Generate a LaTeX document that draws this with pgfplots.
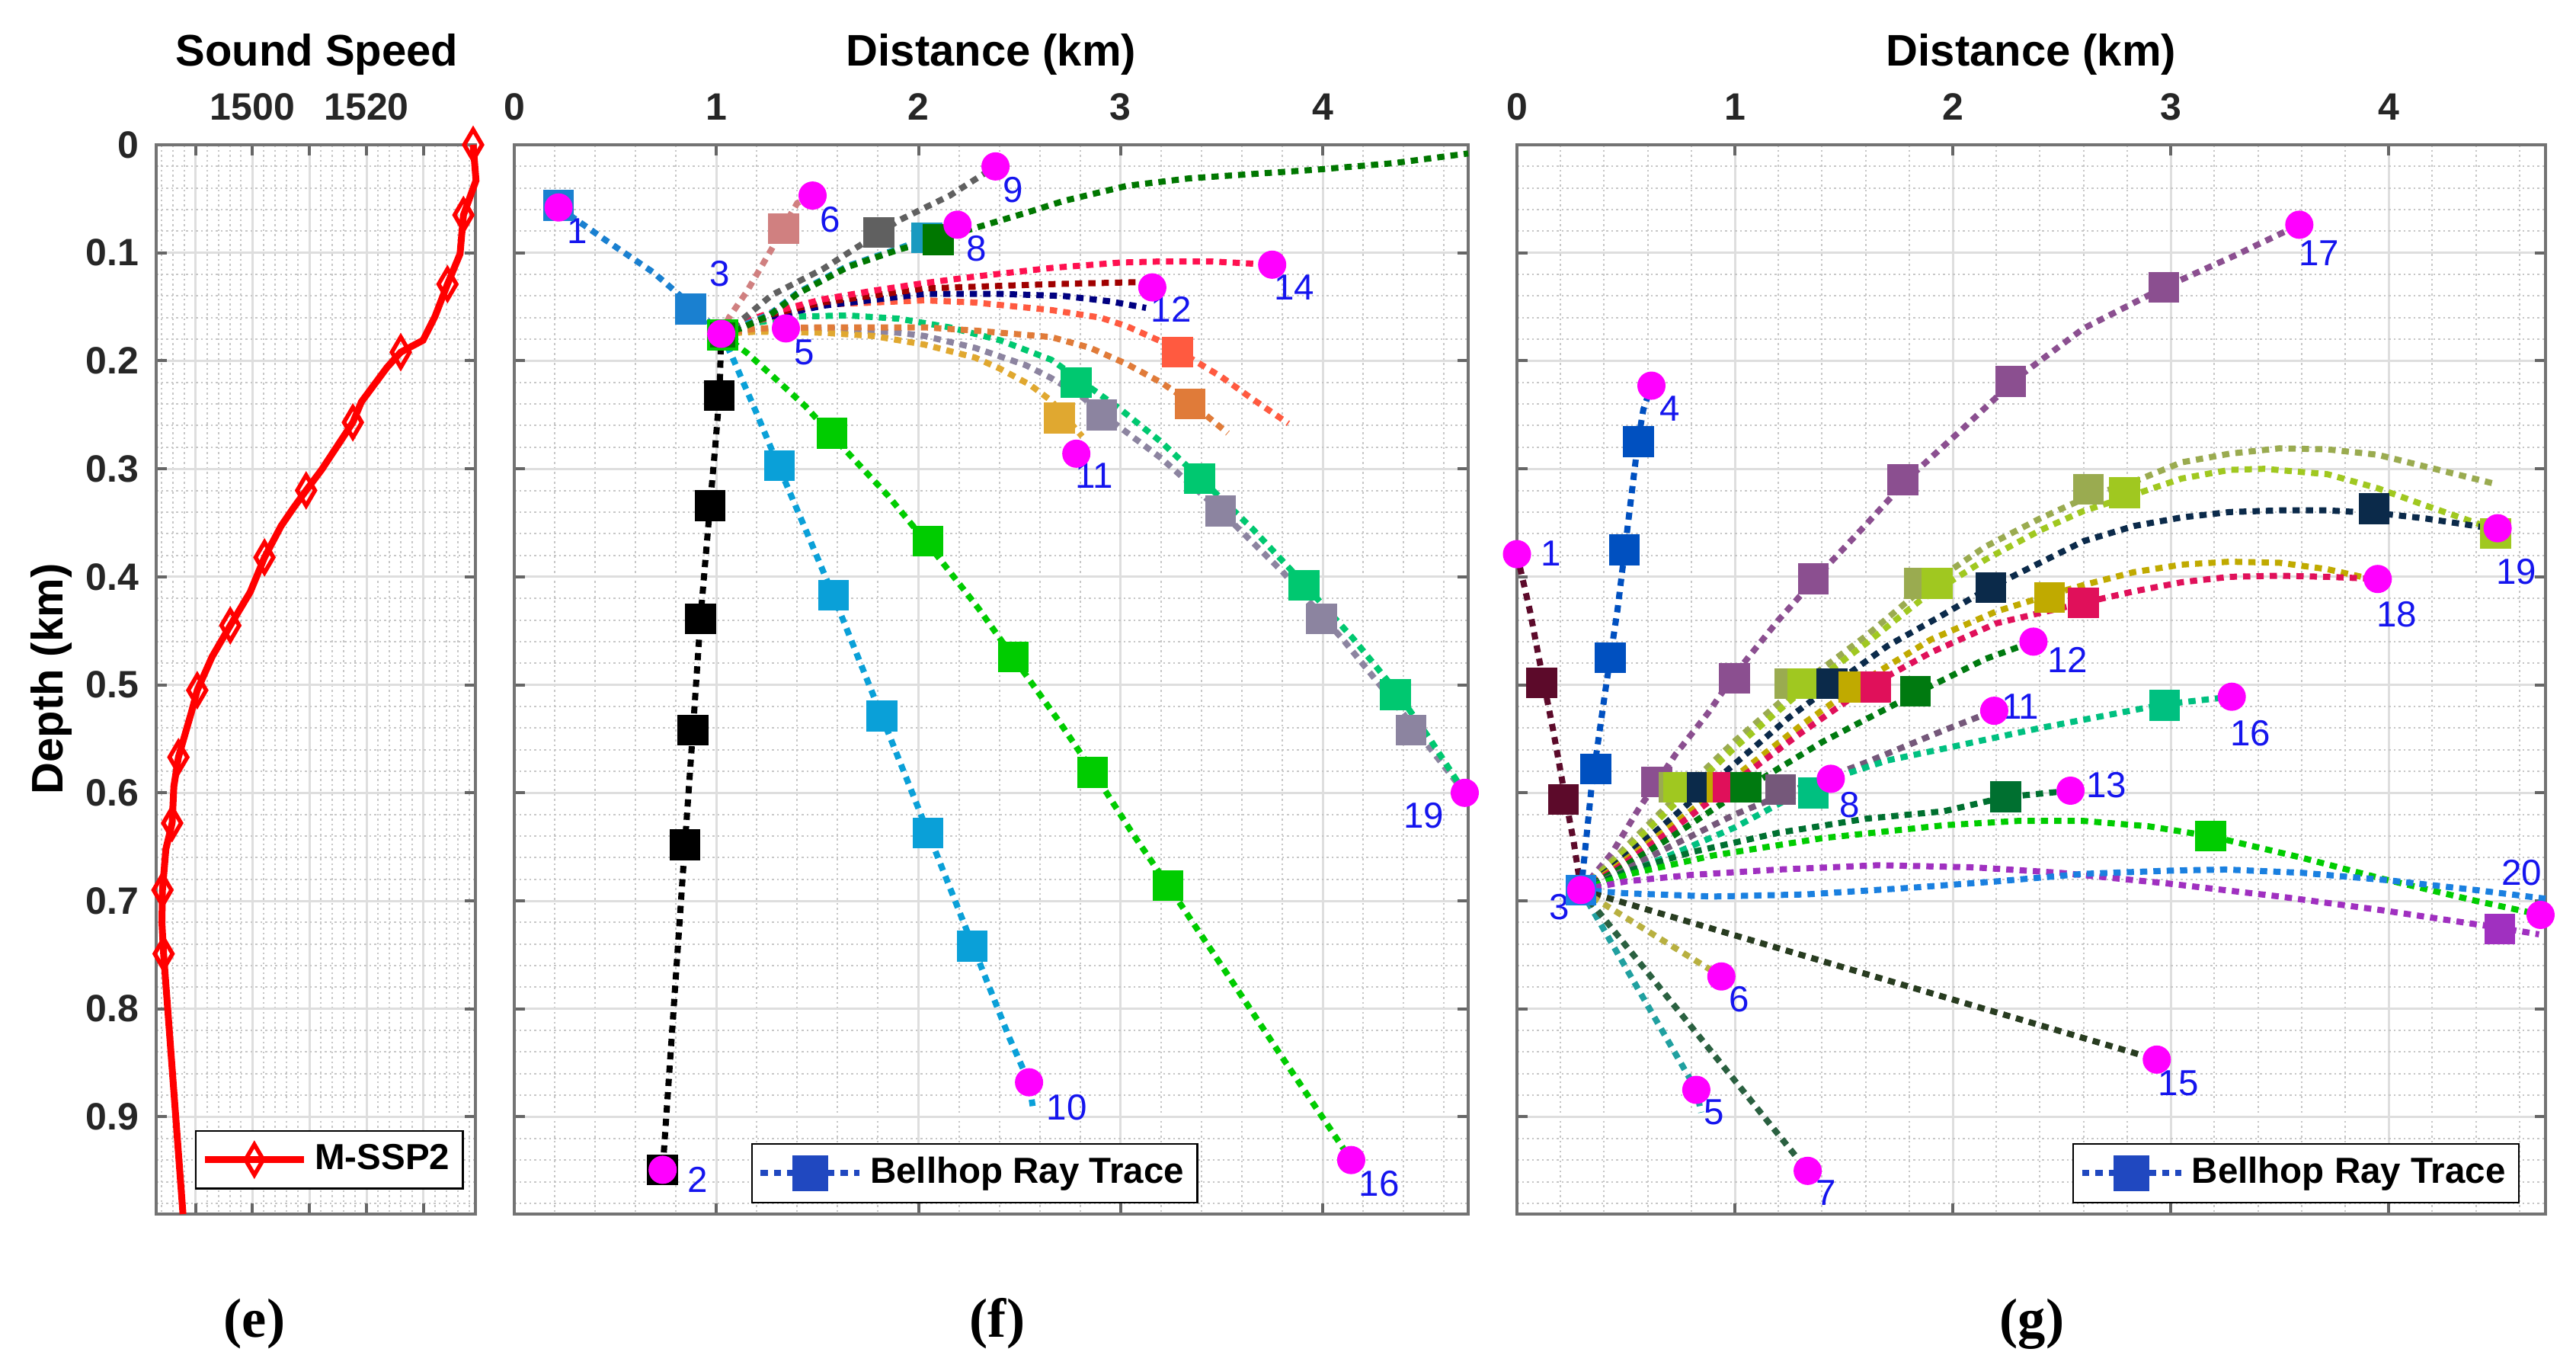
\documentclass[border=0pt]{standalone}
\usepackage{pgfplots}
\pgfplotsset{compat=1.18}
\usepackage{fontspec}
\setmainfont{Liberation Sans}
\newfontfamily\capfont{Liberation Serif}

\definecolor{mag}{RGB}{255,0,255}
\definecolor{labblue}{HTML}{1515EE}
\definecolor{legblue}{HTML}{2048C0}
% panel f colours
\definecolor{fA}{HTML}{1A80D0}
\definecolor{fTen}{HTML}{0AA0D8}
\definecolor{fSixteen}{HTML}{00CC00}
\definecolor{fTealG}{HTML}{00C870}
\definecolor{fGrayP}{HTML}{8C84A0}
\definecolor{fGold}{HTML}{E0A830}
\definecolor{fOrange}{HTML}{E07B39}
\definecolor{fTomato}{HTML}{FF5A40}
\definecolor{fCrimson}{HTML}{FF1050}
\definecolor{fDarkRed}{HTML}{A00000}
\definecolor{fNavy}{HTML}{000080}
\definecolor{fDkGreen}{HTML}{007700}
\definecolor{fTeal}{HTML}{1A9AC0}
\definecolor{fGray}{HTML}{606060}
\definecolor{fRosy}{HTML}{D08080}
% panel g colours
\definecolor{gMaroon}{HTML}{5C0A2A}
\definecolor{gBlueA}{HTML}{0050C0}
\definecolor{gPurpA}{HTML}{8B4F90}
\definecolor{gOlive}{HTML}{9AAB50}
\definecolor{gYG}{HTML}{A0C820}
\definecolor{gNavy}{HTML}{0B2A4A}
\definecolor{gGold}{HTML}{C0AA00}
\definecolor{gCrimson}{HTML}{E0105A}
\definecolor{gGreen}{HTML}{007A10}
\definecolor{gGP}{HTML}{75587A}
\definecolor{gTeal}{HTML}{00C080}
\definecolor{gDG}{HTML}{007030}
\definecolor{gBG}{HTML}{00CC00}
\definecolor{gPurpB}{HTML}{A030C0}
\definecolor{gBlueB}{HTML}{1A80E0}
\definecolor{gDOlive}{HTML}{283C20}
\definecolor{gKhaki}{HTML}{B8B040}
\definecolor{gTealB}{HTML}{20A0A0}
\definecolor{gDG7}{HTML}{2A6040}

\pgfplotsset{
  base/.style={
    scale only axis, height=280.6pt, anchor=south west,
    y dir=reverse, ymin=0, ymax=0.99,
    ytick={0,0.1,0.2,0.3,0.4,0.5,0.6,0.7,0.8,0.9},
    minor ytick={0.02,0.04,...,0.98},
    xticklabel pos=upper,
    xtick pos=both, ytick pos=both,
    tick align=inside,
    major tick length=2.8pt, minor tick length=0pt,
    grid=both,
    major grid style={draw=black!13, line width=0.6pt},
    minor grid style={draw=black!22, line width=0.4pt, dash pattern=on 0.5pt off 0.8pt},
    axis line style={draw=black!55, line width=0.8pt},
    tick style={draw=black!60, line width=0.8pt},
    /pgf/number format/assume math mode=true,
    ticklabel style={font=\bfseries\fontsize{10}{12}\selectfont, text=black!85},
    xticklabel style={anchor=base, inner sep=0pt, yshift=6.6pt},
    yticklabel style={anchor=east, inner sep=0pt, xshift=-4.4pt},
    clip=false,
    legend style={draw=black, line width=0.5pt, fill=white,
      font=\bfseries\fontsize{9.5}{11}\selectfont, inner sep=1.5pt, legend cell align=left},
    legend image code/.code={\draw[mark repeat=2,mark phase=2,##1] plot coordinates {(0pt,0pt) (13pt,0pt) (26pt,0pt)};},
  },
  ray/.style={draw=#1, line width=1.6pt, dash pattern=on 1.9pt off 1.6pt, line cap=butt, no markers, forget plot},
  sq/.style={only marks, mark=square*, mark size=3.9pt, color=#1, mark options={solid, line width=0.3pt}, forget plot},
  dot/.style={only marks, mark=*, mark size=3.5pt, color=mag, mark options={solid, draw=mag, fill=mag}, forget plot},
}
\tikzset{lbl/.style={text=labblue, font=\fontsize{9.5}{10}\selectfont, inner sep=0pt}}
\newcommand{\lb}[3]{\node[lbl] at (axis cs:#1,#2) {#3};}

\begin{document}
\begin{tikzpicture}
\path[use as bounding box] (0,0) rectangle (676.2pt,358.8pt);

% ================= (e) =================
\begin{axis}[base, at={(41pt,40.2pt)}, width=83.8pt,
  xmin=1483.1, xmax=1539.1,
  xtick={1490,1500,1510,1520,1530}, xticklabels={,1500,,1520,},
  minor xtick={1484,1486,...,1538},
  legend style={at={(0.964,0.023)}, anchor=south east}]
\addlegendimage{red, line width=1.8pt, mark=diamond, mark size=4pt, mark options={solid, line width=1.1pt, xscale=0.78}}
\addlegendentry{M-SSP2}
\addplot[red, line width=1.8pt, mark=diamond, mark size=4pt, mark options={solid, line width=1.1pt, xscale=0.78},
  mark indices={1,3,5,8,11,13,16,18,20,22,24,26,28}, forget plot] coordinates {
(1538.7,0) (1539.2,0.033) (1537.0,0.065) (1536.4,0.101) (1534.2,0.129) (1532.0,0.159)
(1529.9,0.181) (1526.0,0.192) (1523.6,0.206) (1519.1,0.238) (1517.6,0.257) (1512.1,0.301)
(1509.4,0.320) (1507.2,0.336) (1505.0,0.353) (1502.1,0.382) (1499.6,0.414) (1496.1,0.445)
(1492.9,0.474) (1490.3,0.505) (1489.3,0.525) (1487.0,0.567) (1486.2,0.594) (1485.9,0.628)
(1484.8,0.652) (1484.2,0.690) (1484.1,0.720) (1484.4,0.749) (1487.8,0.990)};
\end{axis}

% ================= (f) =================
\begin{axis}[base, at={(135pt,40.2pt)}, width=250.4pt,
  xmin=0, xmax=4.72, xtick={0,1,2,3,4},
  minor xtick={0.2,0.4,...,4.6}, yticklabels={},
  legend style={at={(0.248,0.01)}, anchor=south west}]
\addlegendimage{color=legblue, line width=1.6pt, dash pattern=on 1.9pt off 1.6pt, mark=square*, mark size=3.9pt, mark options={solid}}
\addlegendentry{Bellhop Ray Trace}
% rays
\addplot[ray=fA] coordinates {(0.219,0.058) (0.45,0.088) (0.687,0.118) (0.873,0.148) (1.024,0.175)};
\addplot[ray=black] coordinates {(1.024,0.175) (1.015,0.232) (0.994,0.28) (0.969,0.333) (0.921,0.439) (0.884,0.542) (0.844,0.648) (0.734,0.949)};
\addplot[ray=fTen] coordinates {(1.024,0.175) (1.08,0.197) (1.2,0.249) (1.3,0.294) (1.45,0.36) (1.58,0.418) (1.82,0.53) (2.05,0.638) (2.27,0.742) (2.45,0.827) (2.547,0.868) (2.565,0.89)};
\addplot[ray=fSixteen] coordinates {(1.024,0.175) (1.15,0.1925) (1.275,0.2136) (1.44,0.242) (1.6,0.275) (1.85,0.325) (2.07,0.375) (2.3,0.43) (2.49,0.48) (2.7,0.535) (2.88,0.585) (3.05,0.635) (3.25,0.69) (3.5,0.76) (3.8,0.845) (4.141,0.94)};
\addplot[ray=fGrayP] coordinates {(1.024,0.175) (1.2,0.171) (1.527,0.170) (1.903,0.174) (2.03,0.177) (2.28,0.188) (2.53,0.204) (2.657,0.216) (2.8,0.232) (2.95,0.255) (3.2,0.29) (3.5,0.34) (3.8,0.395) (4.1,0.458) (4.4,0.527) (4.703,0.600)};
\addplot[ray=fTealG] coordinates {(1.024,0.175) (1.15,0.166) (1.401,0.159) (1.652,0.158) (1.903,0.161) (2.154,0.169) (2.405,0.181) (2.657,0.199) (2.8,0.218) (3.0,0.245) (3.2,0.275) (3.39,0.308) (3.65,0.355) (3.9,0.405) (4.15,0.457) (4.36,0.505) (4.53,0.55) (4.703,0.600)};
\addplot[ray=fGold] coordinates {(1.024,0.175) (1.2,0.173) (1.527,0.174) (1.778,0.177) (2.03,0.185) (2.28,0.197) (2.40,0.207) (2.55,0.222) (2.657,0.237) (2.81,0.27)};
\addplot[ray=fOrange] coordinates {(1.024,0.175) (1.2,0.17) (1.527,0.169) (2.03,0.169) (2.28,0.172) (2.657,0.178) (2.85,0.188) (3.031,0.203) (3.2,0.22) (3.343,0.238) (3.53,0.267)};
\addplot[ray=fTomato] coordinates {(1.024,0.175) (1.2,0.163) (1.527,0.148) (2.03,0.144) (2.28,0.146) (2.657,0.153) (2.9,0.16) (3.031,0.168) (3.2,0.182) (3.35,0.198) (3.5,0.215) (3.65,0.235) (3.83,0.258)};
\addplot[ray=fNavy] coordinates {(1.024,0.175) (1.2,0.162) (1.527,0.149) (2.03,0.138) (2.4,0.138) (2.72,0.140) (2.95,0.145) (3.126,0.151)};
\addplot[ray=fDarkRed] coordinates {(1.024,0.175) (1.2,0.16) (1.527,0.146) (2.03,0.133) (2.657,0.129) (3.126,0.127)};
\addplot[ray=fCrimson] coordinates {(1.024,0.175) (1.15,0.163) (1.275,0.155) (1.527,0.143) (1.778,0.135) (2.03,0.128) (2.28,0.122) (2.657,0.114) (3.0,0.109) (3.2,0.108) (3.45,0.108) (3.75,0.111)};
\addplot[ray=fTeal] coordinates {(1.024,0.175) (1.12,0.168) (1.263,0.157) (1.401,0.137) (1.652,0.112) (1.903,0.096) (2.042,0.086)};
\addplot[ray=fDkGreen] coordinates {(1.024,0.175) (1.12,0.17) (1.263,0.158) (1.401,0.138) (1.652,0.113) (1.903,0.097) (2.098,0.087) (2.28,0.077) (2.532,0.063) (2.718,0.052) (3.031,0.038) (3.343,0.031) (3.97,0.023) (4.35,0.017) (4.72,0.008)};
\addplot[ray=fGray] coordinates {(1.024,0.175) (1.12,0.163) (1.275,0.139) (1.527,0.115) (1.703,0.094) (1.903,0.070) (2.155,0.047) (2.381,0.020)};
\addplot[ray=fRosy] coordinates {(1.024,0.175) (1.062,0.16) (1.15,0.136) (1.275,0.096) (1.35,0.07) (1.40,0.054) (1.476,0.047)};
% squares
\addplot[sq=fA] coordinates {(0.219,0.056) (0.873,0.152)};
\addplot[sq=black] coordinates {(1.015,0.232) (0.969,0.334) (0.921,0.439) (0.884,0.542) (0.844,0.648) (0.734,0.949)};
\addplot[sq=fTen] coordinates {(1.312,0.297) (1.579,0.417) (1.819,0.529) (2.047,0.637) (2.265,0.742)};
\addplot[sq=fSixteen] coordinates {(1.572,0.267) (2.047,0.367) (2.469,0.474) (2.861,0.581) (3.235,0.686)};
\addplot[sq=fTealG] coordinates {(2.781,0.22) (3.391,0.309) (3.907,0.408) (4.36,0.509)};
\addplot[sq=fGrayP] coordinates {(2.906,0.25) (3.494,0.339) (3.995,0.439) (4.437,0.542)};
\addplot[sq=fGold] coordinates {(2.697,0.253)};
\addplot[sq=fOrange] coordinates {(3.343,0.240)};
\addplot[sq=fTomato] coordinates {(3.281,0.192)};
\addplot[sq=fTeal] coordinates {(2.042,0.086)};
\addplot[sq=fDkGreen] coordinates {(2.098,0.088)};
\addplot[sq=fGray] coordinates {(1.803,0.081)};
\addplot[sq=fRosy] coordinates {(1.332,0.0775)};
\addplot[only marks, mark=square*, mark size=3.7pt, draw=fSixteen, fill=fDkGreen, mark options={solid, line width=0.8pt}, forget plot] coordinates {(1.03,0.176)};
% end points
\addplot[dot] coordinates {(0.219,0.058) (0.734,0.949) (1.024,0.175) (1.344,0.170) (1.476,0.047) (2.193,0.074) (2.381,0.020) (2.547,0.868) (2.781,0.286) (3.157,0.132) (3.75,0.111) (4.141,0.940) (4.703,0.600)};
% labels
\lb{0.312}{0.080}{1} \lb{1.015}{0.119}{3} \lb{1.562}{0.069}{6} \lb{2.469}{0.042}{9}
\lb{2.287}{0.096}{8} \lb{3.86}{0.132}{14} \lb{3.25}{0.152}{12} \lb{1.436}{0.192}{5}
\lb{2.87}{0.306}{11} \lb{4.50}{0.621}{19} \lb{2.734}{0.891}{10} \lb{4.28}{0.962}{16}
\lb{0.906}{0.958}{2}
\end{axis}

% ================= (g) =================
\begin{axis}[base, at={(398.2pt,40.2pt)}, width=270pt,
  xmin=0, xmax=4.72, xtick={0,1,2,3,4},
  minor xtick={0.2,0.4,...,4.6}, yticklabels={},
  legend style={at={(0.975,0.01)}, anchor=south east}]
\addlegendimage{color=legblue, line width=1.6pt, dash pattern=on 1.9pt off 1.6pt, mark=square*, mark size=3.9pt, mark options={solid}}
\addlegendentry{Bellhop Ray Trace}
% rays
\addplot[ray=gMaroon] coordinates {(0,0.379) (0.06,0.432) (0.112,0.487) (0.167,0.543) (0.214,0.596) (0.26,0.645) (0.294,0.69)};
\addplot[ray=gBlueA] coordinates {(0.294,0.69) (0.305,0.668) (0.341,0.597) (0.408,0.502) (0.461,0.431) (0.51,0.35) (0.555,0.275) (0.58,0.245) (0.617,0.223)};
\addplot[ray=gPurpA] coordinates {(0.294,0.69) (0.435,0.656) (0.555,0.616) (0.729,0.564) (0.877,0.526) (1.0,0.49) (1.2,0.44) (1.4,0.395) (1.6,0.352) (1.8,0.308) (2.05,0.262) (2.3,0.215) (2.6,0.17) (2.97,0.132) (3.3,0.102) (3.59,0.074)};
\addplot[ray=gOlive] coordinates {(0.294,0.69) (0.45,0.66) (0.7,0.61) (1.0,0.552) (1.3,0.5) (1.6,0.455) (1.85,0.413) (2.15,0.372) (2.4,0.346) (2.63,0.325) (2.83,0.312) (3.05,0.294) (3.27,0.286) (3.5,0.281) (3.72,0.282) (3.95,0.287) (4.17,0.298) (4.49,0.314)};
\addplot[ray=gYG] coordinates {(0.294,0.69) (0.45,0.663) (0.7,0.615) (1.0,0.558) (1.3,0.507) (1.6,0.462) (1.85,0.422) (2.15,0.384) (2.4,0.357) (2.6,0.339) (2.8,0.326) (3.05,0.309) (3.27,0.301) (3.43,0.300) (3.72,0.305) (3.95,0.318) (4.17,0.334) (4.4,0.350) (4.5,0.358)};
\addplot[ray=gNavy] coordinates {(0.294,0.69) (0.45,0.667) (0.7,0.625) (1.0,0.573) (1.25,0.53) (1.45,0.5) (1.7,0.464) (1.93,0.438) (2.17,0.41) (2.38,0.389) (2.6,0.367) (2.83,0.353) (3.05,0.345) (3.27,0.340) (3.5,0.3385) (3.72,0.3385) (3.95,0.341) (4.17,0.346) (4.5,0.356)};
\addplot[ray=gGold] coordinates {(0.294,0.69) (0.45,0.669) (0.7,0.632) (1.0,0.585) (1.3,0.538) (1.6,0.495) (1.9,0.458) (2.2,0.432) (2.44,0.417) (2.6,0.4076) (2.83,0.3957) (3.05,0.3887) (3.27,0.386) (3.5,0.387) (3.72,0.393) (3.92,0.402)};
\addplot[ray=gCrimson] coordinates {(0.294,0.69) (0.45,0.671) (0.7,0.636) (1.0,0.59) (1.3,0.545) (1.6,0.503) (1.9,0.47) (2.2,0.443) (2.6,0.424) (2.83,0.4135) (3.05,0.405) (3.27,0.400) (3.5,0.399) (3.72,0.400) (3.95,0.402)};
\addplot[ray=gGreen] coordinates {(0.294,0.69) (0.45,0.673) (0.7,0.642) (1.0,0.602) (1.4,0.553) (1.83,0.508) (2.15,0.476) (2.37,0.46)};
\addplot[ray=gGP] coordinates {(0.294,0.69) (0.45,0.676) (0.7,0.65) (1.0,0.62) (1.3,0.595) (1.6,0.572) (1.96,0.542) (2.19,0.524)};
\addplot[ray=gTeal] coordinates {(0.294,0.69) (0.45,0.679) (0.7,0.658) (1.0,0.632) (1.25,0.605) (1.44,0.587) (1.7,0.57) (1.96,0.559) (2.4,0.54) (2.97,0.518) (3.28,0.511)};
\addplot[ray=gDG] coordinates {(0.294,0.69) (0.5,0.673) (0.8,0.655) (1.2,0.637) (1.6,0.624) (1.96,0.617) (2.24,0.604) (2.54,0.598)};
\addplot[ray=gBG] coordinates {(0.294,0.69) (0.5,0.676) (0.9,0.658) (1.4,0.642) (1.96,0.630) (2.3,0.626) (2.6,0.626) (2.9,0.631) (3.18,0.640) (3.6,0.66) (3.98,0.68) (4.4,0.70) (4.70,0.713)};
\addplot[ray=gPurpB] coordinates {(0.294,0.69) (0.5,0.682) (0.8,0.676) (1.2,0.671) (1.66,0.667) (2.1,0.669) (2.49,0.674) (2.99,0.684) (3.5,0.696) (3.98,0.709) (4.51,0.725) (4.69,0.731)};
\addplot[ray=gBlueB] coordinates {(0.294,0.69) (0.5,0.693) (0.9,0.696) (1.33,0.694) (1.8,0.688) (2.2,0.682) (2.6,0.675) (3.0,0.672) (3.25,0.671) (3.6,0.674) (4.0,0.681) (4.4,0.69) (4.72,0.698)};
\addplot[ray=gDOlive] coordinates {(0.294,0.69) (2.936,0.847)};
\addplot[ray=gKhaki] coordinates {(0.294,0.69) (0.938,0.770)};
\addplot[ray=gTealB] coordinates {(0.294,0.69) (0.823,0.875) (0.845,0.896)};
\addplot[ray=gDG7] coordinates {(0.294,0.69) (1.334,0.950)};
% squares
\addplot[sq=gMaroon] coordinates {(0.113,0.498) (0.214,0.606)};
\addplot[sq=gBlueA] coordinates {(0.361,0.578) (0.428,0.475) (0.492,0.375) (0.558,0.275)};
\addplot[sq=gPurpA] coordinates {(0.642,0.590) (0.998,0.494) (1.36,0.402) (1.77,0.310) (2.265,0.219) (2.969,0.132)};
\addplot[sq=gOlive] coordinates {(0.72,0.595) (1.252,0.499) (1.846,0.406) (2.622,0.319)};
\addplot[sq=gYG] coordinates {(0.743,0.595) (1.312,0.499) (1.928,0.406) (2.788,0.322) (4.49,0.36)};
\addplot[sq=gNavy] coordinates {(0.85,0.595) (1.446,0.499) (2.175,0.41) (3.933,0.337)};
\addplot[sq=gGold] coordinates {(0.94,0.595) (1.547,0.502) (2.444,0.419)};
\addplot[sq=gCrimson] coordinates {(0.97,0.595) (1.647,0.502) (2.6,0.424)};
\addplot[sq=gGreen] coordinates {(1.05,0.595) (1.828,0.506)};
\addplot[sq=gGP] coordinates {(1.21,0.597)};
\addplot[sq=gTeal] coordinates {(1.36,0.600) (2.971,0.519)};
\addplot[sq=gDG] coordinates {(2.242,0.6035)};
\addplot[sq=gBG] coordinates {(3.183,0.640)};
\addplot[sq=gPurpB] coordinates {(4.51,0.726)};
\addplot[sq=gBlueB] coordinates {(0.294,0.69)};
% end points
\addplot[dot] coordinates {(0,0.379) (0.294,0.69) (0.617,0.223) (0.823,0.875) (0.938,0.770) (1.334,0.950) (1.44,0.587) (2.19,0.524) (2.37,0.46) (2.54,0.598) (2.936,0.847) (3.28,0.511) (3.59,0.074) (3.95,0.402) (4.50,0.355) (4.697,0.713)};
% labels
\lb{0.155}{0.378}{1} \lb{0.70}{0.244}{4} \lb{3.68}{0.100}{17} \lb{4.585}{0.395}{19}
\lb{4.036}{0.435}{18} \lb{2.527}{0.477}{12} \lb{2.31}{0.52}{11} \lb{3.365}{0.545}{16}
\lb{2.704}{0.5925}{13} \lb{1.526}{0.611}{8} \lb{4.61}{0.674}{20} \lb{0.195}{0.706}{3}
\lb{1.02}{0.791}{6} \lb{0.905}{0.896}{5} \lb{1.417}{0.970}{7} \lb{3.035}{0.869}{15}
\end{axis}

% titles and captions
\node[font=\bfseries\fontsize{11.6}{13}\selectfont, anchor=base] at (83.2pt,341.4pt) {Sound Speed};
\node[font=\bfseries\fontsize{11.6}{13}\selectfont, anchor=base] at (260.2pt,341.4pt) {Distance (km)};
\node[font=\bfseries\fontsize{11.6}{13}\selectfont, anchor=base] at (533.2pt,341.4pt) {Distance (km)};
\node[font=\bfseries\fontsize{11.6}{13}\selectfont, rotate=90, anchor=center] at (13.4pt,180.6pt) {Depth (km)};
\node[font=\capfont\bfseries\fontsize{14.5}{16}\selectfont, anchor=base] at (66.8pt,8pt) {(e)};
\node[font=\capfont\bfseries\fontsize{14.5}{16}\selectfont, anchor=base] at (261.8pt,8pt) {(f)};
\node[font=\capfont\bfseries\fontsize{14.5}{16}\selectfont, anchor=base] at (533.4pt,8pt) {(g)};
\end{tikzpicture}
\end{document}
